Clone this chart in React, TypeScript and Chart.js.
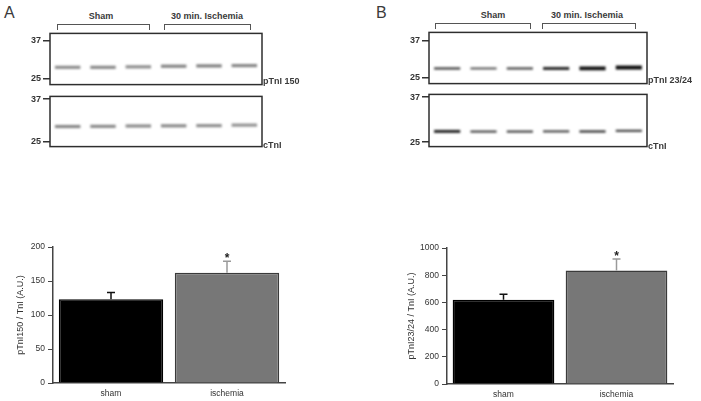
import React, { useEffect, useRef } from 'react';
import { Chart, registerables } from 'chart.js';
Chart.register(...registerables);

const FONT = '"Liberation Sans", Arial, Helvetica, sans-serif';

// ---- Quantification data ----
const categories = ['sham', 'ischemia'];
const pTnI150Mean = [123, 162];
const pTnI150Sem = [10, 17];
const pTnI2324Mean = [620, 834];
const pTnI2324Sem = [40, 85];
const significance = ['', '*'];
const barFill = ['#000000', '#777777'];
const barEdge = ['#000000', '#3a3a3a'];
const errColor = ['#111111', '#9a9a9a'];
const ticks150 = [0, 50, 100, 150, 200];
const ticks2324 = [0, 200, 400, 600, 800, 1000];

// ---- Western blot data (band low/high edge in kDa, shade) ----
const lanes = ['1', '2', '3', '4', '5', '6'];
const mwTicks = [25, 37];
const blotA150Lo = [28.0, 28.0, 28.15, 28.35, 28.45, 28.55];
const blotA150Hi = [29.0, 29.0, 29.15, 29.35, 29.45, 29.55];
const blotA150Shade = ['#8c8c8c', '#888888', '#8e8e8e', '#838383', '#808080', '#858585'];
const blotAcTnILo = [28.75, 28.8, 28.9, 28.95, 29.0, 29.15];
const blotAcTnIHi = [29.65, 29.7, 29.8, 29.85, 29.9, 30.05];
const blotAcTnIShade = ['#878787', '#8a8a8a', '#8c8c8c', '#8a8a8a', '#8e8e8e', '#939393'];
const blotB2324Lo = [27.5, 27.55, 27.5, 27.4, 27.3, 27.55];
const blotB2324Hi = [28.3, 28.25, 28.3, 28.4, 28.55, 28.85];
const blotB2324Shade = ['#505050', '#636363', '#585858', '#2e2e2e', '#141414', '#0e0e0e'];
const blotBcTnILo = [27.45, 27.5, 27.5, 27.55, 27.5, 27.7];
const blotBcTnIHi = [28.25, 28.1, 28.1, 28.15, 28.15, 28.3];
const blotBcTnIShade = ['#262626', '#4a4a4a', '#474747', '#4c4c4c', '#404040', '#464646'];

const blurPlugin = {
  id: 'blur',
  beforeDatasetsDraw(chart: any) {
    chart.ctx.save();
    chart.ctx.filter = 'blur(0.8px)';
  },
  afterDatasetsDraw(chart: any) {
    chart.ctx.restore();
  },
};

const boxPlugin = {
  id: 'box',
  afterDraw(chart: any) {
    const { ctx, chartArea: a } = chart;
    ctx.save();
    ctx.strokeStyle = '#2e2e2e';
    ctx.lineWidth = 1.5;
    ctx.strokeRect(a.left, a.top, a.right - a.left, a.bottom - a.top);
    ctx.restore();
  },
};

type Box = { l: number; t: number; r: number; b: number };

function blotConfig(yMin: number, yMax: number, lo: number[], hi: number[], shade: string[]) {
  return {
    type: 'bar',
    data: {
      labels: lanes,
      datasets: [
        {
          data: lo.map((v, i) => [v, hi[i]]),
          backgroundColor: shade,
          borderWidth: 0,
          barPercentage: 0.72,
          categoryPercentage: 1,
        },
      ],
    },
    options: {
      responsive: false,
      animation: false,
      layout: { padding: { left: 0, top: 4, right: 4, bottom: 4 } },
      plugins: { legend: { display: false }, tooltip: { enabled: false } },
      scales: {
        x: { display: false },
        y: {
          min: yMin,
          max: yMax,
          afterBuildTicks: (s: any) => {
            s.ticks = mwTicks.map((v) => ({ value: v }));
          },
          afterFit: (s: any) => {
            s.width = 30;
          },
          grid: { drawOnChartArea: false, drawTicks: true, tickLength: 7, color: '#333', lineWidth: 1.5 },
          border: { display: false },
          ticks: { font: { family: FONT, size: 9, weight: 'bold' }, color: '#333', padding: 2 },
        },
      },
    },
    plugins: [blurPlugin, boxPlugin],
  };
}

function barConfig(
  means: number[],
  sems: number[],
  tickVals: number[],
  title: string,
  pad: { left: number; top: number; right: number; bottom: number },
  yWidth: number,
  xHeight: number
) {
  const errPlugin = {
    id: 'errbars',
    afterDatasetsDraw(chart: any) {
      const { ctx } = chart;
      const y = chart.scales.y;
      const meta = chart.getDatasetMeta(0);
      meta.data.forEach((bar: any, i: number) => {
        const top = y.getPixelForValue(means[i]);
        const e = y.getPixelForValue(means[i] + sems[i]);
        ctx.save();
        ctx.strokeStyle = errColor[i];
        ctx.lineWidth = 1.5;
        ctx.beginPath();
        ctx.moveTo(bar.x, top);
        ctx.lineTo(bar.x, e);
        ctx.moveTo(bar.x - 4, e);
        ctx.lineTo(bar.x + 4, e);
        ctx.stroke();
        if (significance[i]) {
          ctx.fillStyle = '#222';
          ctx.font = `bold 12px ${FONT}`;
          ctx.textAlign = 'center';
          ctx.textBaseline = 'alphabetic';
          ctx.fillText(significance[i], bar.x, e + 0.5);
        }
        ctx.restore();
      });
    },
  };
  return {
    type: 'bar',
    data: {
      labels: categories,
      datasets: [
        {
          data: means,
          backgroundColor: barFill,
          borderColor: barEdge,
          borderWidth: 1.5,
          barPercentage: 0.9,
          categoryPercentage: 1,
        },
      ],
    },
    options: {
      responsive: false,
      animation: false,
      layout: { padding: pad },
      plugins: { legend: { display: false }, tooltip: { enabled: false } },
      scales: {
        x: {
          afterFit: (s: any) => {
            s.height = xHeight;
          },
          grid: { display: true, drawOnChartArea: false, drawTicks: false },
          border: { display: true, color: '#444', width: 1.5 },
          ticks: { font: { family: FONT, size: 8.5 }, color: '#333', padding: 6 },
        },
        y: {
          min: tickVals[0],
          max: tickVals[tickVals.length - 1],
          afterBuildTicks: (s: any) => {
            s.ticks = tickVals.map((v) => ({ value: v }));
          },
          afterFit: (s: any) => {
            s.width = yWidth;
          },
          grid: { drawOnChartArea: false, drawTicks: true, tickLength: 5, color: '#444', lineWidth: 1 },
          border: { display: true, color: '#444', width: 1.5 },
          ticks: { font: { family: FONT, size: 8.5 }, color: '#333', padding: 3, callback: (v: any) => String(v) },
          title: { display: true, text: title, font: { family: FONT, size: 9 }, color: '#333', padding: 0 },
        },
      },
    },
    plugins: [errPlugin],
  };
}

function ChartBox(props: { make: () => any; left: number; top: number; width: number; height: number }) {
  const ref = useRef<HTMLCanvasElement>(null);
  useEffect(() => {
    const c = new Chart(ref.current as HTMLCanvasElement, props.make());
    return () => c.destroy();
  }, []);
  return (
    <canvas
      ref={ref}
      width={props.width}
      height={props.height}
      style={{ position: 'absolute', left: props.left, top: props.top, width: props.width, height: props.height }}
    />
  );
}

function Blot(props: { box: Box; yMin: number; yMax: number; lo: number[]; hi: number[]; shade: string[] }) {
  const { box } = props;
  return (
    <ChartBox
      make={() => blotConfig(props.yMin, props.yMax, props.lo, props.hi, props.shade)}
      left={box.l - 30}
      top={box.t - 4}
      width={box.r - box.l + 34}
      height={box.b - box.t + 8}
    />
  );
}

const labelStyle = (x: number, y: number, size: number, bold: boolean, center: boolean): React.CSSProperties => ({
  position: 'absolute',
  left: x,
  top: y,
  transform: center ? 'translate(-50%, -50%)' : 'translateY(-50%)',
  fontFamily: FONT,
  fontSize: size,
  fontWeight: bold ? 'bold' : 'normal',
  color: '#3a3a3a',
  lineHeight: 1,
  whiteSpace: 'nowrap',
});

const bracket = (l: number, r: number, t: number, b: number): React.CSSProperties => ({
  position: 'absolute',
  left: l,
  top: t,
  width: r - l,
  height: b - t,
  border: '1px solid #555',
  borderBottom: 'none',
  boxSizing: 'border-box',
});

export default function App() {
  return (
    <div style={{ position: 'absolute', left: 0, top: 0, width: 701, height: 401, background: '#fff', overflow: 'hidden' }}>
      {/* Panel A */}
      <div style={labelStyle(4, 13, 16, false, false)}>A</div>
      <div style={labelStyle(101, 16, 9, true, true)}>Sham</div>
      <div style={labelStyle(207, 16, 9, true, true)}>30 min. Ischemia</div>
      <div style={bracket(57, 150, 24, 30)} />
      <div style={bracket(164, 251, 24, 30)} />
      <Blot box={{ l: 50, t: 30, r: 262, b: 88 }} yMin={23.05} yMax={39.2} lo={blotA150Lo} hi={blotA150Hi} shade={blotA150Shade} />
      <Blot box={{ l: 50, t: 93, r: 262, b: 150 }} yMin={23.5} yMax={37.75} lo={blotAcTnILo} hi={blotAcTnIHi} shade={blotAcTnIShade} />
      <div style={labelStyle(263, 81, 9, true, false)}>pTnI 150</div>
      <div style={labelStyle(263, 145, 9, true, false)}>cTnI</div>
      <ChartBox
        make={() => barConfig(pTnI150Mean, pTnI150Sem, ticks150, 'pTnI150 / TnI (A.U.)', { left: 15, top: 17, right: 15, bottom: 0 }, 38, 18)}
        left={0}
        top={230}
        width={300}
        height={171}
      />

      {/* Panel B */}
      <div style={labelStyle(376, 13, 16, false, false)}>B</div>
      <div style={labelStyle(493, 15, 9, true, true)}>Sham</div>
      <div style={labelStyle(587, 15, 9, true, true)}>30 min. Ischemia</div>
      <div style={bracket(435, 531, 23, 29)} />
      <div style={bracket(542, 636, 23, 29)} />
      <Blot box={{ l: 429, t: 29, r: 647, b: 87 }} yMin={23.0} yMax={39.57} lo={blotB2324Lo} hi={blotB2324Hi} shade={blotB2324Shade} />
      <Blot box={{ l: 429, t: 91, r: 647, b: 150 }} yMin={23.8} yMax={37.7} lo={blotBcTnILo} hi={blotBcTnIHi} shade={blotBcTnIShade} />
      <div style={labelStyle(648, 80, 9, true, false)}>pTnI 23/24</div>
      <div style={labelStyle(648, 146, 9, true, false)}>cTnI</div>
      <ChartBox
        make={() => barConfig(pTnI2324Mean, pTnI2324Sem, ticks2324, 'pTnI23/24 / TnI (A.U.)', { left: 46, top: 18, right: 28, bottom: 0 }, 41, 17)}
        left={360}
        top={230}
        width={341}
        height={171}
      />
    </div>
  );
}
